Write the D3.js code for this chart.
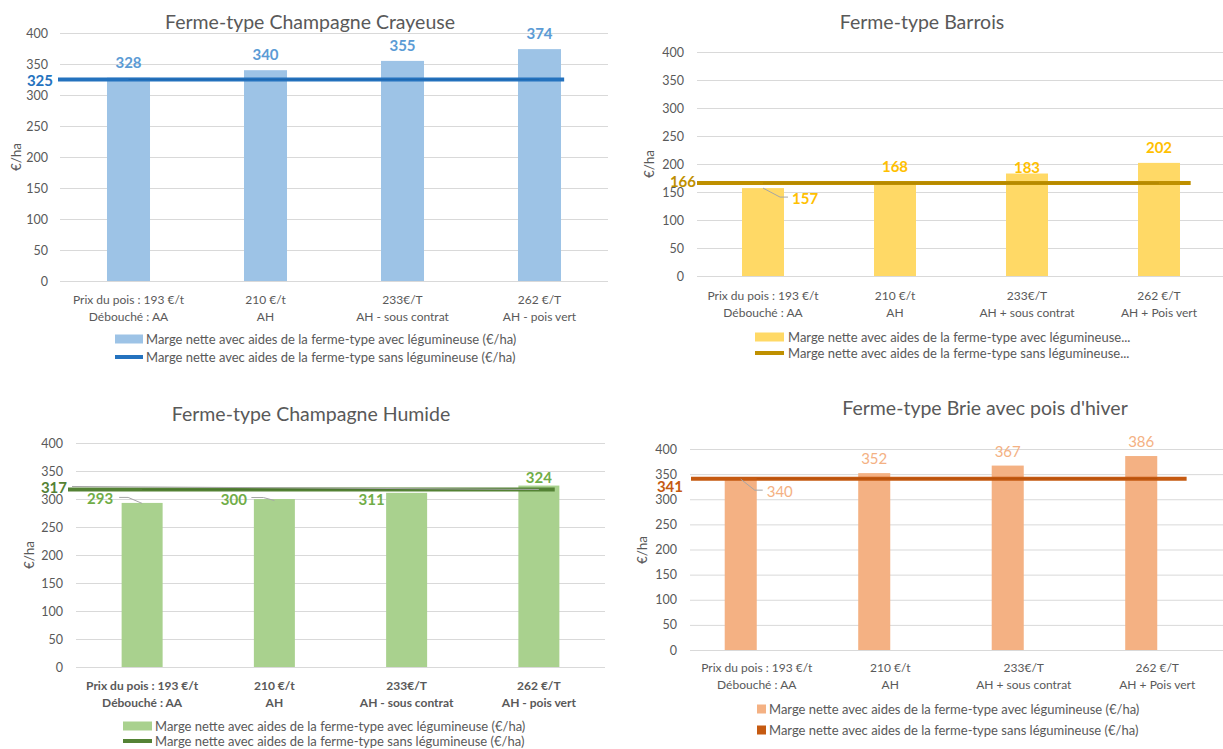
<!DOCTYPE html>
<html>
<head>
<meta charset="utf-8">
<script src="https://cdn.jsdelivr.net/npm/d3@7"></script>
<style>
  body { margin: 0; background: #fff; }
  text { font-family: Lato, "Noto Sans", sans-serif; }
</style>
</head>
<body>
<svg id="chart"></svg>
<script>
// valeurs (€/ha)
const yTicks = [0, 50, 100, 150, 200, 250, 300, 350, 400];

const catsCrayeuse = [["Prix du pois : 193 €/t", "Débouché : AA"], ["210 €/t", "AH"], ["233€/T", "AH - sous contrat"], ["262 €/T", "AH - pois vert"]];
const catsBarrois = [["Prix du pois : 193 €/t", "Débouché : AA"], ["210 €/t", "AH"], ["233€/T", "AH + sous contrat"], ["262 €/T", "AH + Pois vert"]];
const catsHumide = [["Prix du pois : 193 €/t", "Débouché : AA"], ["210 €/t", "AH"], ["233€/T", "AH - sous contrat"], ["262 €/T", "AH - pois vert"]];
const catsBrie = [["Prix du pois : 193 €/t", "Débouché : AA"], ["210 €/t", "AH"], ["233€/T", "AH + sous contrat"], ["262 €/T", "AH + Pois vert"]];

const avecCrayeuse = [328, 340, 355, 374];
const sansCrayeuse = 325;
const avecBarrois = [157, 168, 183, 202];
const sansBarrois = 166;
const avecHumide = [293, 300, 311, 324];
const sansHumide = 317;
const avecBrie = [340, 352, 367, 386];
const sansBrie = 341;

const legendAvec = "Marge nette avec aides de la ferme-type avec légumineuse (€/ha)";
const legendSans = "Marge nette avec aides de la ferme-type sans légumineuse (€/ha)";
const legendAvecCourt = "Marge nette avec aides de la ferme-type avec légumineuse...";
const legendSansCourt = "Marge nette avec aides de la ferme-type sans légumineuse...";

const W = 1223, H = 749;
const grey = "#595959";

const svg = d3.select("#chart").attr("width", W).attr("height", H);
svg.append("rect").attr("width", W).attr("height", H).attr("fill", "#fff");

// placement des étiquettes (relatif au sommet de la barre)
const labTop = {anchor: "middle", dx: 0, dy: -16};

const panels = [
  {
    title: "Ferme-type Champagne Crayeuse", titleX: 310, titleY: 21,
    cats: catsCrayeuse, avec: avecCrayeuse, sans: sansCrayeuse,
    x0: 60, x1: 608, yTop: 33, yBottom: 281, tickRight: 48,
    yTitleX: 16, yTitleY: 157, xl: [299, 316], bold: false,
    barW: 0.314, barOff: 0, lineStart: -2, lineEnd: 0.18,
    barColor: "#9DC3E6", labColor: "#5B9BD5", lineColor: "#2472BE", thinColor: "#1F63A6",
    labWeight: "bold",
    labels: [labTop, labTop, labTop, labTop],
    sansLab: {dx: -7, dy: 0},
    legend: {y: [339, 357], sx: 115, sw: 28, tx: 146, square: false, texts: [legendAvec, legendSans]}
  },
  {
    title: "Ferme-type Barrois", titleX: 922, titleY: 21,
    cats: catsBarrois, avec: avecBarrois, sans: sansBarrois,
    x0: 697, x1: 1225, yTop: 52, yBottom: 276, tickRight: 684,
    yTitleX: 649, yTitleY: 164, xl: [295, 312], bold: false,
    barW: 0.318, barOff: 0, lineStart: 0, lineEnd: 0.24,
    barColor: "#FFD966", labColor: "#FFC000", lineColor: "#BF9000", thinColor: "#A87F00",
    labWeight: "bold",
    labels: [
      {anchor: "start", dx: 29, dy: 10, leader: [[0, 0], [17, 9], [25, 9]]},
      labTop,
      {anchor: "middle", dx: 0, dy: -7},
      labTop
    ],
    sansLab: {dx: -1, dy: -2},
    legend: {y: [337, 353], sx: 755, sw: 29, tx: 788, square: false, texts: [legendAvecCourt, legendSansCourt]}
  },
  {
    title: "Ferme-type Champagne Humide", titleX: 311, titleY: 413,
    cats: catsHumide, avec: avecHumide, sans: sansHumide,
    x0: 76, x1: 605, yTop: 443, yBottom: 667, tickRight: 63,
    yTitleX: 29, yTitleY: 555, xl: [685, 702], bold: true,
    barW: 0.31, barOff: 0, lineStart: -8, lineEnd: 0.12,
    barColor: "#A9D18E", labColor: "#70AD47", lineColor: "#548235", thinColor: "#47702C",
    labWeight: "bold",
    labels: [
      {anchor: "end", dx: -29, dy: -4.5, leader: [[-23, -5.5], [-14, -5.5], [0, 0.5]]},
      {anchor: "end", dx: -27.5, dy: 0, leader: [[-23, -1.5], [-11, -1.5], [0, 1.5]]},
      {anchor: "end", dx: -22, dy: 6},
      {anchor: "middle", dx: 0, dy: -9}
    ],
    sansLab: {dx: -9, dy: -2, leader: true},
    legend: {y: [726, 741], sx: 123, sw: 29, tx: 155, square: false, texts: [legendAvec, legendSans]}
  },
  {
    title: "Ferme-type Brie avec pois d'hiver", titleX: 985, titleY: 407,
    cats: catsBrie, avec: avecBrie, sans: sansBrie,
    x0: 690, x1: 1224, yTop: 449, yBottom: 650, tickRight: 677,
    yTitleX: 642, yTitleY: 550, xl: [667, 684], bold: false,
    barW: 0.24, barOff: -0.12, lineStart: 1, lineEnd: 0.22,
    barColor: "#F4B183", labColor: "#F4B183", lineColor: "#C55A11", thinColor: "#B04E0C",
    labWeight: "normal",
    labels: [
      {anchor: "start", dx: 26, dy: 12, leader: [[0, 0], [14, 11], [22, 11]]},
      {anchor: "middle", dx: 0, dy: -15},
      {anchor: "middle", dx: 0, dy: -15},
      {anchor: "middle", dx: 0, dy: -15}
    ],
    sansLab: {dx: -7, dy: 7},
    legend: {y: [709, 730], sx: 757, sw: 9, tx: 769, square: true, texts: [legendAvec, legendSans]}
  }
];

function drawPanel(p) {
  const g = svg.append("g");
  const n = p.avec.length;

  const x = d3.scaleBand().domain(d3.range(n)).range([p.x0, p.x1]).padding(0);
  const y = d3.scaleLinear().domain([0, 400]).range([p.yBottom, p.yTop]);
  const bw = x.bandwidth();
  const cx = i => x(i) + bw / 2;

  // titre
  g.append("text")
    .attr("x", p.titleX).attr("y", p.titleY)
    .attr("text-anchor", "middle").attr("dominant-baseline", "central")
    .attr("font-size", "19.5px").attr("fill", grey)
    .text(p.title);

  // grille + axe y
  const ax = g.append("g")
    .attr("transform", `translate(${p.x0},0)`)
    .call(d3.axisLeft(y).tickValues(yTicks).tickSize(-(p.x1 - p.x0)).tickPadding(p.x0 - p.tickRight));
  ax.select(".domain").remove();
  ax.selectAll("line").attr("stroke", "#D9D9D9").attr("stroke-width", 1);
  ax.selectAll("text").attr("fill", grey).attr("font-size", "12.5px")
    .attr("font-family", "Lato, 'Noto Sans', sans-serif");

  // titre axe y
  g.append("text")
    .attr("transform", `translate(${p.yTitleX},${p.yTitleY}) rotate(-90)`)
    .attr("text-anchor", "middle").attr("dominant-baseline", "central")
    .attr("font-size", "13.5px").attr("fill", grey)
    .text("€/ha");

  // étiquettes des catégories
  const xl = g.selectAll(".xlab").data(p.cats).join("text")
    .attr("class", "xlab")
    .attr("text-anchor", "middle").attr("font-size", "12px")
    .attr("font-weight", p.bold ? "bold" : "normal").attr("fill", grey);
  xl.each(function (d, i) {
    const t = d3.select(this);
    d.forEach((line, k) => {
      t.append("tspan").attr("x", cx(i)).attr("y", p.xl[k])
        .attr("dominant-baseline", "central").text(line);
    });
  });

  // barres
  g.selectAll(".bar").data(p.avec).join("rect")
    .attr("class", "bar")
    .attr("x", (d, i) => cx(i) + p.barOff * bw - p.barW * bw / 2)
    .attr("width", p.barW * bw)
    .attr("y", d => y(d))
    .attr("height", d => y(0) - y(d))
    .attr("fill", p.barColor);

  // ligne "sans légumineuse"
  const ys = y(p.sans);
  g.append("line")
    .attr("x1", p.x0 + p.lineStart).attr("x2", cx(n - 1) + p.lineEnd * bw)
    .attr("y1", ys).attr("y2", ys)
    .attr("stroke", p.lineColor).attr("stroke-width", 4);
  g.append("line")
    .attr("x1", cx(0)).attr("x2", cx(n - 1))
    .attr("y1", ys).attr("y2", ys)
    .attr("stroke", p.thinColor).attr("stroke-width", 1.2).attr("opacity", 0.6);

  // étiquette de la ligne
  if (p.sansLab.leader) {
    g.append("line")
      .attr("x1", p.x0 + p.sansLab.dx + 5).attr("y1", ys + p.sansLab.dy - 1)
      .attr("x2", cx(n - 1)).attr("y2", ys)
      .attr("stroke", "#A6A6A6").attr("stroke-width", 1);
  }
  g.append("text")
    .attr("x", p.x0 + p.sansLab.dx).attr("y", ys + p.sansLab.dy)
    .attr("text-anchor", "end").attr("dominant-baseline", "central")
    .attr("font-size", "15px").attr("font-weight", "bold").attr("fill", p.lineColor)
    .text(p.sans);

  // étiquettes des barres
  p.avec.forEach((v, i) => {
    const L = p.labels[i];
    const px = cx(i) + p.barOff * bw, py = y(v);
    if (L.leader) {
      g.append("polyline")
        .attr("points", L.leader.map(q => [px + q[0], py + q[1]].join(",")).join(" "))
        .attr("fill", "none").attr("stroke", "#A6A6A6").attr("stroke-width", 1);
    }
    g.append("text")
      .attr("x", px + L.dx).attr("y", py + L.dy)
      .attr("text-anchor", L.anchor).attr("dominant-baseline", "central")
      .attr("font-size", "15px").attr("font-weight", p.labWeight).attr("fill", p.labColor)
      .text(v);
  });

  // légende
  const lg = p.legend;
  if (lg.square) {
    g.append("rect").attr("x", lg.sx).attr("y", lg.y[0] - lg.sw / 2)
      .attr("width", lg.sw).attr("height", lg.sw).attr("fill", p.barColor);
    g.append("rect").attr("x", lg.sx).attr("y", lg.y[1] - lg.sw / 2)
      .attr("width", lg.sw).attr("height", lg.sw).attr("fill", p.lineColor);
  } else {
    g.append("rect").attr("x", lg.sx).attr("y", lg.y[0] - 4.5)
      .attr("width", lg.sw).attr("height", 9).attr("fill", p.barColor);
    g.append("line").attr("x1", lg.sx).attr("x2", lg.sx + lg.sw)
      .attr("y1", lg.y[1]).attr("y2", lg.y[1])
      .attr("stroke", p.lineColor).attr("stroke-width", 4);
  }
  lg.texts.forEach((t, k) => {
    g.append("text")
      .attr("x", lg.tx).attr("y", lg.y[k])
      .attr("dominant-baseline", "central")
      .attr("font-size", "13px").attr("fill", grey)
      .text(t);
  });
}

panels.forEach(drawPanel);
</script>
</body>
</html>
